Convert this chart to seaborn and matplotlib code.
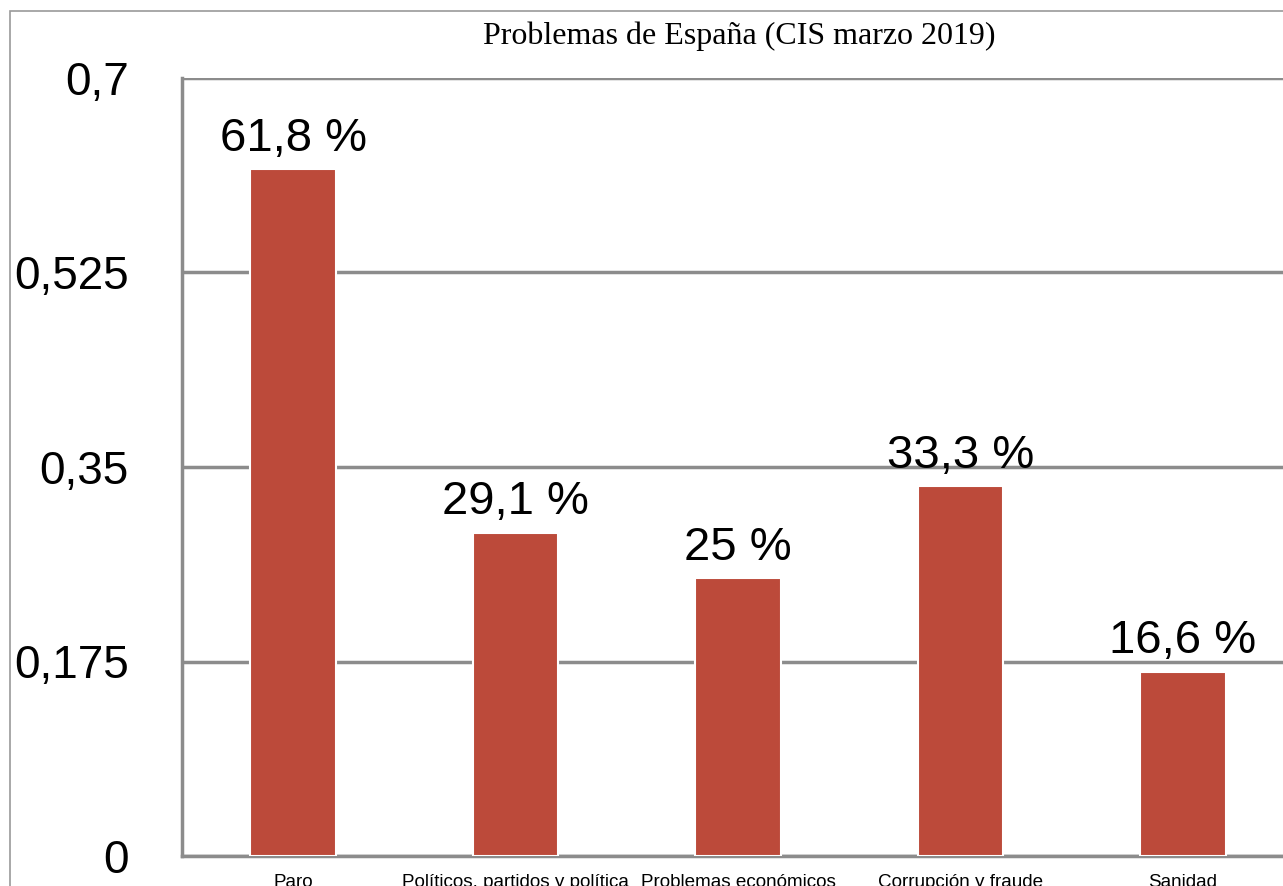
import numpy as np
import pandas as pd
import matplotlib
matplotlib.use("Agg")
import matplotlib.pyplot as plt
import seaborn as sns
from matplotlib.patches import Rectangle

# Datos
categorias = ["Paro", "Políticos, partidos y política", "Problemas económicos",
              "Corrupción y fraude", "Sanidad"]
valores = [0.618, 0.291, 0.25, 0.333, 0.166]
etiquetas = ["61,8 %", "29,1 %", "25 %", "33,3 %", "16,6 %"]
yticks = [0, 0.175, 0.35, 0.525, 0.7]
yticklabels = ["0", "0,175", "0,35", "0,525", "0,7"]

sns.set_style("white")
plt.rcParams['font.family'] = ['Liberation Sans', 'DejaVu Sans']
plt.rcParams['text.color'] = 'black'

df = pd.DataFrame({"problema": categorias, "valor": valores})

W, H = 1283, 886
fig = plt.figure(figsize=(W / 100, H / 100), dpi=100)
ax = fig.add_axes([182 / W, 1 - 856 / H, 1112 / W, (856 - 78) / H])

gris = "#8c8c8c"
rojo = "#bc4a3a"

sns.barplot(data=df, x="problema", y="valor", color=rojo, saturation=1,
            width=0.385, edgecolor="white", linewidth=1.5, ax=ax, zorder=3)

ax.set_xlim(-0.5, 4.5)
ax.set_ylim(0, 0.7)
ax.set_yticks(yticks)
ax.set_yticklabels(yticklabels, fontsize=33)
ax.yaxis.grid(True, color=gris, linewidth=2.5, zorder=0)
ax.set_axisbelow(True)

# etiquetas de categoría al centro, marcas en los límites
ax.set_xticks(range(len(categorias)))
ax.set_xticklabels(categorias, fontsize=13.6)
ax.set_xticks(np.arange(-0.5, len(categorias), 1), minor=True)
ax.tick_params(axis="x", which="major", length=0, pad=13, labelcolor="black")
ax.tick_params(axis="x", which="minor", length=6, width=2.5, color=gris, direction="out")
ax.tick_params(axis="y", length=7, width=2.5, color=gris, pad=31.5,
               direction="out", labelcolor="black")
ax.set_xlabel("")
ax.set_ylabel("")

for s in ["top", "right"]:
    ax.spines[s].set_visible(False)
for s in ["left", "bottom"]:
    ax.spines[s].set_color(gris)
    ax.spines[s].set_linewidth(2.5)

ax.bar_label(ax.containers[0], labels=etiquetas, fontsize=34, padding=6,
             color="black")

fig.text(739 / W, 1 - 36 / H, "Problemas de España (CIS marzo 2019)",
         family="Liberation Serif", fontsize=23, ha="center", va="center",
         color="black")

# marco exterior
fig.patches.append(Rectangle((10 / W, -0.1), 1.2, 1 - 11 / H + 0.1,
                             transform=fig.transFigure, fill=False,
                             edgecolor="#9a9a9a", linewidth=1.2))

fig.savefig("out.png", dpi=100)
